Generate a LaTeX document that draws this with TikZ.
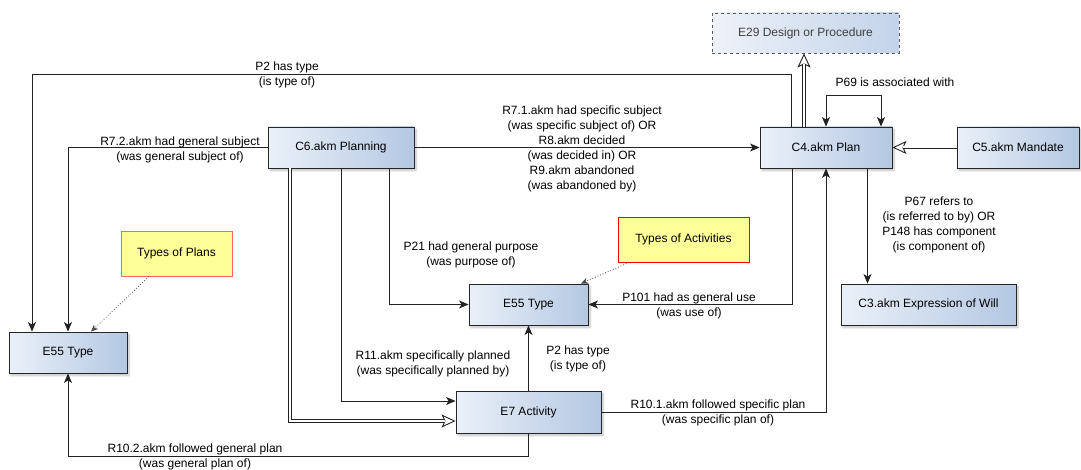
\documentclass[tikz,border=0pt]{standalone}
\usepackage{fontspec}
\setmainfont{Liberation Sans}
\usetikzlibrary{arrows.meta,shadows.blur,calc}
\definecolor{bl}{HTML}{EAF0F8}
\definecolor{br}{HTML}{B4C8E3}
\definecolor{bl2}{HTML}{EEF2F9}
\definecolor{br2}{HTML}{C3D3E9}
\definecolor{notefill}{HTML}{FFFF99}
\definecolor{linec}{HTML}{222222}
\begin{document}
\begin{tikzpicture}[x=1pt,y=-1pt,
  font=\fontsize{12}{15}\selectfont,
  box/.style={draw=black!85, line width=0.9pt, left color=bl, right color=br,
    minimum height=41pt, inner sep=0pt,
    blur shadow={shadow xshift=2pt,shadow yshift=-2.5pt,shadow opacity=25,shadow blur steps=6,shadow blur radius=2pt}},
  absbox/.style={draw=black!65, dashed, line width=0.9pt, left color=bl2, right color=br2,
    minimum height=40pt, inner sep=0pt, text=black!75},
  note/.style={draw=#1, line width=0.9pt, fill=notefill, minimum height=45pt, inner sep=0pt},
  conn/.style={draw=linec, line width=0.9pt},
  arr/.style={conn, -{Stealth[length=9.5pt,width=8pt,inset=2.5pt]}},
  arrs/.style={conn, {Stealth[length=9.5pt,width=8pt,inset=2.5pt]}-{Stealth[length=9.5pt,width=8pt,inset=2.5pt]}},
  inhtip/.style={conn, -{Stealth[open,length=14pt,width=13pt,inset=3pt]}},
  inhline/.style={draw=linec, line width=0.8pt, double=white, double distance=2pt, shorten >=10.5pt},
  dotarr/.style={draw=black!70, line width=0.8pt, dotted, -{Stealth[length=7pt,width=6pt,inset=2pt]}},
  lbl/.style={align=center, inner sep=0pt}
]
\useasboundingbox (0,0) rectangle (1081,470);

% nodes
\node[absbox, minimum width=187pt] (e29) at (805.5,33) {E29 Design or Procedure};
\node[box, minimum width=132pt] (c4) at (826,147.5) {C4.akm Plan};
\node[box, minimum width=122pt] (c5) at (1018,147.5) {C5.akm Mandate};
\node[box, minimum width=146pt] (c6) at (341,147.5) {C6.akm Planning};
\node[box, minimum width=118pt] (e55a) at (68,352.5) {E55 Type};
\node[note=red!60, minimum width=111pt] (tplans) at (176.5,253.5) {Types of Plans};
\node[box, minimum width=119pt] (e55b) at (528.5,304.5) {E55 Type};
\node[note=red, minimum width=131pt] (tacts) at (683.5,239.5) {Types of Activities};
\node[box, minimum width=145pt, minimum height=42pt] (e7) at (528.5,412) {E7 Activity};
\node[box, minimum width=175pt] (c3) at (928.5,304.5) {C3.akm Expression of Will};

% connectors
\draw[arr] ([xshift=-35pt]c4.north) |- (32,74) -- ([xshift=-36pt]e55a.north);
\draw[arr] (c6.west) -| (e55a.north);
\draw[arr] (c6.east) -- (c4.west);
\draw[arrs] (c4.north) -- (826,95) -- (881,95) -- ([xshift=55pt]c4.north);
\draw[inhtip] ([xshift=-22pt]c4.north) -- ([xshift=-1.5pt]e29.south);
\draw[inhline] ([xshift=-22pt]c4.north) -- ([xshift=-1.5pt]e29.south);
\draw[inhtip] (c5.west) -- (c4.east);
\draw[inhline] (c5.west) -- (c4.east);
\draw[arr] ([xshift=-34pt]c4.south) |- (e55b.east);
\draw[arr] (e7.east) -| (c4.south);
\draw[arr] ([xshift=41.5pt]c4.south) -- ([xshift=-61pt]c3.north);
\draw[arr] ([xshift=48pt]c6.south) |- (e55b.west);
\draw[arr] (c6.south) |- ([yshift=11pt]e7.west);
\draw[inhtip] ([xshift=-51pt]c6.south) |- ([yshift=-9pt]e7.west);
\draw[inhline] ([xshift=-51pt]c6.south) |- ([yshift=-9pt]e7.west);
\draw[arr] (e7.north) -- (e55b.south);
\draw[arr] (e7.south) -- (528.5,456) -| (e55a.south);
\draw[dotarr] ([xshift=-27.5pt]tplans.south) -- ([xshift=23pt]e55a.north);
\draw[dotarr] ([xshift=-54.5pt]tacts.south) -- ([xshift=52.5pt]e55b.north);

% labels
\node[lbl] (l1) at (287,75) {P2 has type\\(is type of)};
\node[lbl] (l2) at (180,149.5) {R7.2.akm had general subject\\(was general subject of)};
\node[lbl] (l3) at (582,149) {R7.1.akm had specific subject\\(was specific subject of) OR\\R8.akm decided\\(was decided in) OR\\R9.akm abandoned\\(was abandoned by)};
\node[lbl] (l4) at (895,82) {P69 is associated with};
\node[lbl] (l5) at (939,224.5) {P67 refers to\\(is referred to by) OR\\P148 has component\\(is component of)};
\node[lbl] (l6) at (471,254.5) {P21 had general purpose\\(was purpose of)};
\node[lbl] (l7) at (689,305.5) {P101 had as general use\\(was use of)};
\node[lbl] (l8) at (433,363.5) {R11.akm specifically planned\\(was specifically planned by)};
\node[lbl] (l9) at (578,358.5) {P2 has type\\(is type of)};
\node[lbl] (l10) at (718,413) {R10.1.akm followed specific plan\\(was specific plan of)};
\node[lbl] (l11) at (195,457) {R10.2.akm followed general plan\\(was general plan of)};
\end{tikzpicture}
\end{document}
